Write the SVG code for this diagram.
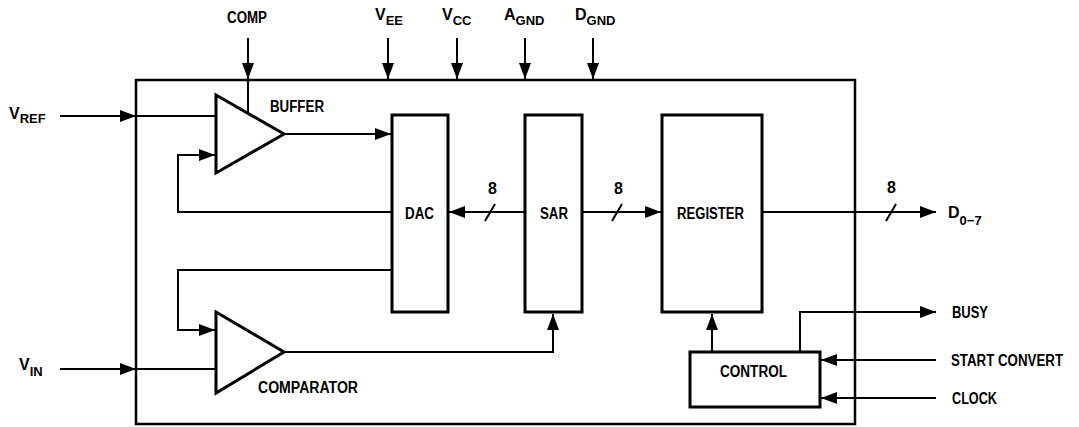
<svg xmlns="http://www.w3.org/2000/svg" width="1079" height="427" viewBox="0 0 1079 427">
<style>
.t{font-family:"Liberation Sans",Arial,sans-serif;font-weight:bold;font-size:16px;fill:#000}
.s{font-size:13px}
.blk{fill:#fff;stroke:#000;stroke-width:3}
.w{fill:none;stroke:#000;stroke-width:2}
.a{fill:none;stroke:#000;stroke-width:2;marker-end:url(#ah)}
.sl{stroke:#000;stroke-width:2}
</style>
<defs>
<marker id="ah" viewBox="0 0 16 12" refX="16" refY="6" markerWidth="16" markerHeight="12" markerUnits="userSpaceOnUse" orient="auto">
<path d="M0,0 L16,6 L0,12 z" fill="#000"/>
</marker>
</defs>
<rect id="chip" x="136" y="80" width="719" height="344" fill="none" stroke="#000" stroke-width="2.5"/>
<g id="buffer">
<polygon class="blk" points="216,95 284,134 216,173"/>
<text class="t" x="270" y="112" textLength="54" lengthAdjust="spacingAndGlyphs">BUFFER</text>
</g>
<g id="comparator">
<polygon class="blk" points="216,312 284,352 216,393"/>
<text class="t" x="258" y="393" textLength="100" lengthAdjust="spacingAndGlyphs">COMPARATOR</text>
</g>
<g id="dac">
<rect class="blk" x="392" y="115" width="56" height="197"/>
<text class="t" x="405" y="219" textLength="29" lengthAdjust="spacingAndGlyphs">DAC</text>
</g>
<g id="sar">
<rect class="blk" x="525" y="115" width="57" height="197"/>
<text class="t" x="540" y="219" textLength="28" lengthAdjust="spacingAndGlyphs">SAR</text>
</g>
<g id="register">
<rect class="blk" x="662" y="115" width="100" height="197"/>
<text class="t" x="677" y="219" textLength="67" lengthAdjust="spacingAndGlyphs">REGISTER</text>
</g>
<g id="control">
<rect class="blk" x="690" y="352" width="130" height="55"/>
<text class="t" x="720" y="377" textLength="67" lengthAdjust="spacingAndGlyphs">CONTROL</text>
</g>
<g id="labels">
<text class="t" x="227" y="23" textLength="40" lengthAdjust="spacingAndGlyphs">COMP</text>
<text class="t" x="9" y="119">V<tspan class="s" dy="4">REF</tspan></text>
<text class="t" x="375" y="20">V<tspan class="s" dy="5">EE</tspan></text>
<text class="t" x="442" y="20">V<tspan class="s" dy="5">CC</tspan></text>
<text class="t" x="504" y="20">A<tspan class="s" dy="5">GND</tspan></text>
<text class="t" x="575" y="20">D<tspan class="s" dy="5">GND</tspan></text>
<text class="t" x="19" y="370">V<tspan class="s" dy="6">IN</tspan></text>
<text class="t" x="948" y="218">D<tspan class="s" dy="7">0−7</tspan></text>
<text class="t" x="488" y="194">8</text>
<text class="t" x="614" y="194">8</text>
<text class="t" x="887" y="193">8</text>
<text class="t" x="952" y="318" textLength="36" lengthAdjust="spacingAndGlyphs">BUSY</text>
<text class="t" x="951" y="366" font-size="14" textLength="112" lengthAdjust="spacingAndGlyphs">START CONVERT</text>
<text class="t" x="952" y="404" textLength="45" lengthAdjust="spacingAndGlyphs">CLOCK</text>
</g>
<g id="connectors">
<line class="a" x1="248" y1="38" x2="248" y2="79"/>
<line class="w" x1="248" y1="80" x2="248" y2="113"/>
<line class="a" x1="388" y1="38" x2="388" y2="79"/>
<line class="a" x1="457" y1="38" x2="457" y2="79"/>
<line class="a" x1="525" y1="38" x2="525" y2="79"/>
<line class="a" x1="593" y1="38" x2="593" y2="79"/>
<line class="a" x1="60" y1="116" x2="136" y2="116"/>
<line class="w" x1="136" y1="116" x2="216" y2="116"/>
<line class="a" x1="60" y1="369" x2="136" y2="369"/>
<line class="w" x1="136" y1="369" x2="216" y2="369"/>
<line class="a" x1="284" y1="134" x2="391" y2="134"/>
<path class="a" d="M391,212 H178 V155 H215"/>
<path class="a" d="M391,270 H178 V330 H215"/>
<path class="a" d="M284,352 H553 V314"/>
<line class="a" x1="524" y1="212" x2="449" y2="212"/>
<line class="a" x1="583" y1="212" x2="661" y2="212"/>
<line class="a" x1="763" y1="212" x2="936" y2="212"/>
<line class="sl" x1="485" y1="221" x2="495" y2="204"/>
<line class="sl" x1="612" y1="221" x2="622" y2="204"/>
<line class="sl" x1="886" y1="221" x2="896" y2="204"/>
<line class="a" x1="712" y1="351" x2="712" y2="314"/>
<path class="a" d="M800,351 V312 H936"/>
<line class="a" x1="936" y1="360" x2="821" y2="360"/>
<line class="a" x1="936" y1="398" x2="821" y2="398"/>
</g>
</svg>
